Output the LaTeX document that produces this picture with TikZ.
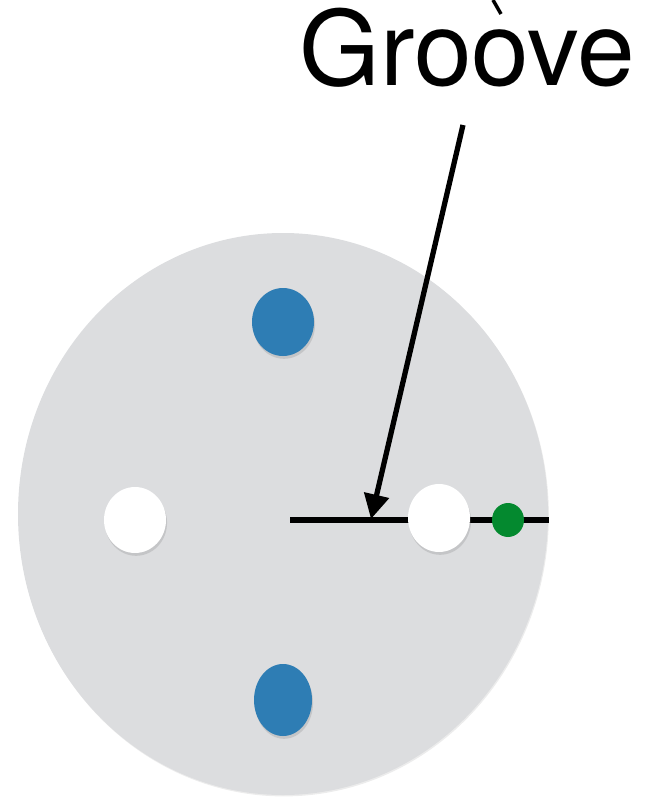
\documentclass[tikz,border=0pt]{standalone}
\usepackage{fontspec}
\setmainfont{TeX Gyre Heros}
\usetikzlibrary{arrows.meta,shadows}
\definecolor{disc}{HTML}{DCDDDF}
\definecolor{pin}{HTML}{2E7DB4}
\definecolor{greendot}{HTML}{04892F}

\begin{document}
\begin{tikzpicture}[x=0.02cm,y=-0.02cm]
  \useasboundingbox (0,0) rectangle (646,797);
  \tikzset{
    softshadow/.style={drop shadow={opacity=0.25,shadow xshift=0.6pt,shadow yshift=-1.6pt}},
    hole/.style={fill=white,softshadow},
    pinhole/.style={fill=pin,softshadow}
  }

  % Disc
  \fill[disc,drop shadow={opacity=0.15,shadow xshift=0.5pt,shadow yshift=-0.8pt}] (283,514) ellipse (265 and 281);

  % Groove line
  \coordinate (gstart) at (290,520);
  \coordinate (gend) at (549,520);
  \draw[line width=3pt] (gstart) -- (gend);

  % Holes
  \fill[pinhole] (283,322) ellipse (31 and 34);
  \fill[pinhole] (283,700) ellipse (29 and 36);
  \fill[hole] (135,520) ellipse (31 and 33);
  \fill[hole] (439,518) ellipse (31 and 34);
  \fill[greendot] (508,520) ellipse (16 and 17);

  % Label
  \node[font=\fontsize{59}{63}\selectfont,inner sep=0pt,anchor=base] (label) at (467,86) {Groove};
  \coordinate (tail) at (463,125);
  \coordinate (tip) at (371,519);
  \draw[line width=3pt,-{Triangle[length=14pt,width=14pt]}] (tail) -- (tip);

  % cut-off stroke above the label
  \coordinate (cuta) at (493,0);
  \coordinate (cutb) at (501,14);
  \draw[line width=2pt] (cuta) -- (cutb);
\end{tikzpicture}
\end{document}
